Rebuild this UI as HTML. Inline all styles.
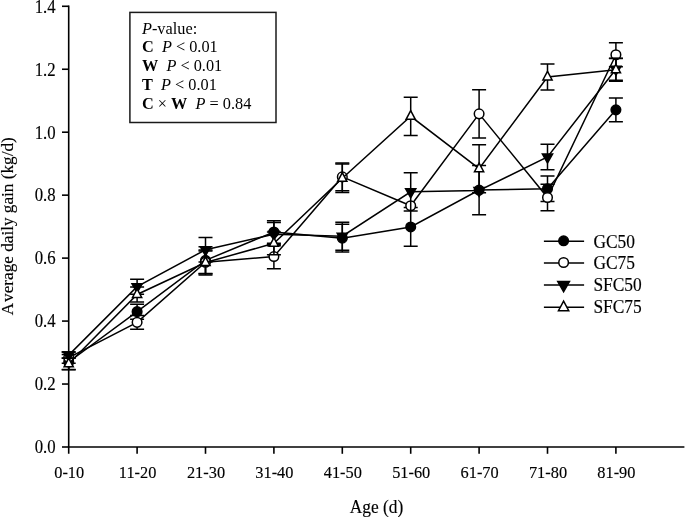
<!DOCTYPE html>
<html><head><meta charset="utf-8"><style>
html,body{margin:0;padding:0;background:#fff;}
body{width:685px;height:517px;overflow:hidden;}
svg{display:block;will-change:transform;}
text{font-family:"Liberation Serif",serif;fill:#000;}
.t{font-size:17.4px;stroke:#000;stroke-width:0.15px;}
.b{font-size:16.3px;white-space:pre;}
</style></head><body>
<svg width="685" height="517" viewBox="0 0 685 517">
<g stroke="#000" fill="none" stroke-linecap="butt">
<line x1="68.7" y1="5.48" x2="68.7" y2="453.8" stroke-width="1.6"/>
<line x1="67.9" y1="447.0" x2="684.4" y2="447.0" stroke-width="1.6"/>
<line x1="62.0" y1="447.00" x2="68.7" y2="447.00" stroke-width="1.6"/>
<line x1="62.0" y1="384.04" x2="68.7" y2="384.04" stroke-width="1.6"/>
<line x1="62.0" y1="321.08" x2="68.7" y2="321.08" stroke-width="1.6"/>
<line x1="62.0" y1="258.12" x2="68.7" y2="258.12" stroke-width="1.6"/>
<line x1="62.0" y1="195.16" x2="68.7" y2="195.16" stroke-width="1.6"/>
<line x1="62.0" y1="132.20" x2="68.7" y2="132.20" stroke-width="1.6"/>
<line x1="62.0" y1="69.24" x2="68.7" y2="69.24" stroke-width="1.6"/>
<line x1="62.0" y1="6.28" x2="68.7" y2="6.28" stroke-width="1.6"/>
<line x1="137.10" y1="447.0" x2="137.10" y2="453.8" stroke-width="1.6"/>
<line x1="205.50" y1="447.0" x2="205.50" y2="453.8" stroke-width="1.6"/>
<line x1="273.90" y1="447.0" x2="273.90" y2="453.8" stroke-width="1.6"/>
<line x1="342.30" y1="447.0" x2="342.30" y2="453.8" stroke-width="1.6"/>
<line x1="410.70" y1="447.0" x2="410.70" y2="453.8" stroke-width="1.6"/>
<line x1="479.10" y1="447.0" x2="479.10" y2="453.8" stroke-width="1.6"/>
<line x1="547.50" y1="447.0" x2="547.50" y2="453.8" stroke-width="1.6"/>
<line x1="615.90" y1="447.0" x2="615.90" y2="453.8" stroke-width="1.6"/>
<rect x="129.9" y="12.4" width="146.1" height="110.1" fill="none" stroke="#1a1a1a" stroke-width="1.5"/>
</g>
<g stroke="#000" stroke-linejoin="miter">
<path d="M68.70 354.45V369.56M61.70 354.45H75.70M61.70 369.56H75.70M137.10 304.14V319.13M130.10 304.14H144.10M130.10 319.13H144.10M205.50 246.79V273.86M198.50 246.79H212.50M198.50 273.86H212.50M273.90 220.66V243.32M266.90 220.66H280.90M266.90 243.32H280.90M342.30 224.28V251.98M335.30 224.28H349.30M335.30 251.98H349.30M410.70 207.59V246.31M403.70 207.59H417.70M403.70 246.31H417.70M479.10 165.57V214.68M472.10 165.57H486.10M472.10 214.68H486.10M547.50 175.96V201.46M540.50 175.96H554.50M540.50 201.46H554.50M615.90 98.01V121.69M608.90 98.01H622.90M608.90 121.69H622.90" fill="none" stroke-width="1.5"/>
<polyline points="68.70,362.00 137.10,311.64 205.50,260.32 273.90,231.99 342.30,238.13 410.70,226.95 479.10,190.12 547.50,188.71 615.90,109.85" fill="none" stroke-width="1.5"/>
<circle cx="68.70" cy="362.00" r="4.8" fill="#000" stroke-width="1.5"/>
<circle cx="137.10" cy="311.64" r="4.8" fill="#000" stroke-width="1.5"/>
<circle cx="205.50" cy="260.32" r="4.8" fill="#000" stroke-width="1.5"/>
<circle cx="273.90" cy="231.99" r="4.8" fill="#000" stroke-width="1.5"/>
<circle cx="342.30" cy="238.13" r="4.8" fill="#000" stroke-width="1.5"/>
<circle cx="410.70" cy="226.95" r="4.8" fill="#000" stroke-width="1.5"/>
<circle cx="479.10" cy="190.12" r="4.8" fill="#000" stroke-width="1.5"/>
<circle cx="547.50" cy="188.71" r="4.8" fill="#000" stroke-width="1.5"/>
<circle cx="615.90" cy="109.85" r="4.8" fill="#000" stroke-width="1.5"/>
<path d="M68.70 351.93V363.26M61.70 351.93H75.70M61.70 363.26H75.70M137.10 315.41V329.26M130.10 315.41H144.10M130.10 329.26H144.10M205.50 250.88V273.55M198.50 250.88H212.50M198.50 273.55H212.50M273.90 244.27V268.82M266.90 244.27H280.90M266.90 268.82H280.90M342.30 163.05V190.75M335.30 163.05H349.30M335.30 190.75H349.30M479.10 89.70V137.99M472.10 89.70H486.10M472.10 137.99H486.10M547.50 184.17V210.81M540.50 184.17H554.50M540.50 210.81H554.50M615.90 42.80V66.72M608.90 42.80H622.90M608.90 66.72H622.90" fill="none" stroke-width="1.5"/>
<polyline points="68.70,357.60 137.10,322.34 205.50,262.21 273.90,256.55 342.30,176.90 410.70,205.71 479.10,113.85 547.50,197.49 615.90,54.76" fill="none" stroke-width="1.5"/>
<circle cx="68.70" cy="357.60" r="4.8" fill="#fff" stroke-width="1.5"/>
<circle cx="137.10" cy="322.34" r="4.8" fill="#fff" stroke-width="1.5"/>
<circle cx="205.50" cy="262.21" r="4.8" fill="#fff" stroke-width="1.5"/>
<circle cx="273.90" cy="256.55" r="4.8" fill="#fff" stroke-width="1.5"/>
<circle cx="342.30" cy="176.90" r="4.8" fill="#fff" stroke-width="1.5"/>
<circle cx="410.70" cy="205.71" r="4.8" fill="#fff" stroke-width="1.5"/>
<circle cx="479.10" cy="113.85" r="4.8" fill="#fff" stroke-width="1.5"/>
<circle cx="547.50" cy="197.49" r="4.8" fill="#fff" stroke-width="1.5"/>
<circle cx="615.90" cy="54.76" r="4.8" fill="#fff" stroke-width="1.5"/>
<path d="M68.70 351.99V358.29M61.70 351.99H75.70M61.70 358.29H75.70M137.10 279.15V294.20M130.10 279.15H144.10M130.10 294.20H144.10M205.50 237.60V261.90M198.50 237.60H212.50M198.50 261.90H212.50M273.90 222.55V245.84M266.90 222.55H280.90M266.90 245.84H280.90M342.30 222.30V250.19M335.30 222.30H349.30M335.30 250.19H349.30M410.70 172.68V210.90M403.70 172.68H417.70M403.70 210.90H417.70M547.50 144.19V169.82M540.50 144.19H554.50M540.50 169.82H554.50M615.90 58.22V80.26M608.90 58.22H622.90M608.90 80.26H622.90" fill="none" stroke-width="1.5"/>
<polyline points="68.70,355.14 137.10,286.67 205.50,249.75 273.90,234.20 342.30,236.24 410.70,191.79 479.10,190.44 547.50,157.01 615.90,69.24" fill="none" stroke-width="1.5"/>
<polygon points="63.60,352.14 73.80,352.14 68.70,361.14" fill="#000" stroke-width="1.5"/>
<polygon points="132.00,283.67 142.20,283.67 137.10,292.67" fill="#000" stroke-width="1.5"/>
<polygon points="200.40,246.75 210.60,246.75 205.50,255.75" fill="#000" stroke-width="1.5"/>
<polygon points="268.80,231.20 279.00,231.20 273.90,240.20" fill="#000" stroke-width="1.5"/>
<polygon points="337.20,233.24 347.40,233.24 342.30,242.24" fill="#000" stroke-width="1.5"/>
<polygon points="405.60,188.79 415.80,188.79 410.70,197.79" fill="#000" stroke-width="1.5"/>
<polygon points="474.00,187.44 484.20,187.44 479.10,196.44" fill="#000" stroke-width="1.5"/>
<polygon points="542.40,154.01 552.60,154.01 547.50,163.01" fill="#000" stroke-width="1.5"/>
<polygon points="610.80,66.24 621.00,66.24 615.90,75.24" fill="#000" stroke-width="1.5"/>
<path d="M68.70 357.91V369.69M61.70 357.91H75.70M61.70 369.69H75.70M137.10 287.08V301.88M130.10 287.08H144.10M130.10 301.88H144.10M205.50 249.94V275.12M198.50 249.94H212.50M198.50 275.12H212.50M273.90 231.99V254.66M266.90 231.99H280.90M266.90 254.66H280.90M342.30 164.12V192.45M335.30 164.12H349.30M335.30 192.45H349.30M410.70 97.19V135.41M403.70 97.19H417.70M403.70 135.41H417.70M479.10 144.79V192.64M472.10 144.79H486.10M472.10 192.64H486.10M547.50 63.89V90.02M540.50 63.89H554.50M540.50 90.02H554.50M615.90 58.54V81.20M608.90 58.54H622.90M608.90 81.20H622.90" fill="none" stroke-width="1.5"/>
<polyline points="68.70,363.80 137.10,294.48 205.50,262.53 273.90,243.32 342.30,178.29 410.70,116.30 479.10,168.72 547.50,76.95 615.90,69.87" fill="none" stroke-width="1.5"/>
<polygon points="64.10,366.80 73.30,366.80 68.70,358.20" fill="#fff" stroke-width="1.5"/>
<polygon points="132.50,297.48 141.70,297.48 137.10,288.88" fill="#fff" stroke-width="1.5"/>
<polygon points="200.90,265.53 210.10,265.53 205.50,256.93" fill="#fff" stroke-width="1.5"/>
<polygon points="269.30,246.32 278.50,246.32 273.90,237.72" fill="#fff" stroke-width="1.5"/>
<polygon points="337.70,181.29 346.90,181.29 342.30,172.69" fill="#fff" stroke-width="1.5"/>
<polygon points="406.10,119.30 415.30,119.30 410.70,110.70" fill="#fff" stroke-width="1.5"/>
<polygon points="474.50,171.72 483.70,171.72 479.10,163.12" fill="#fff" stroke-width="1.5"/>
<polygon points="542.90,79.95 552.10,79.95 547.50,71.35" fill="#fff" stroke-width="1.5"/>
<polygon points="611.30,72.87 620.50,72.87 615.90,64.27" fill="#fff" stroke-width="1.5"/>
<line x1="543.9" y1="241.3" x2="584.1" y2="241.3" stroke-width="1.5"/>
<circle cx="563.60" cy="240.80" r="4.8" fill="#000" stroke-width="1.5"/>
<line x1="543.9" y1="263.0" x2="584.1" y2="263.0" stroke-width="1.5"/>
<circle cx="563.60" cy="262.50" r="4.8" fill="#fff" stroke-width="1.5"/>
<line x1="543.9" y1="284.9" x2="584.1" y2="284.9" stroke-width="1.5"/>
<polygon points="557.74,281.45 569.47,281.45 563.60,291.80" fill="#000" stroke-width="1.5"/>
<line x1="543.9" y1="307.3" x2="584.1" y2="307.3" stroke-width="1.5"/>
<polygon points="558.45,310.66 568.75,310.66 563.60,301.03" fill="#fff" stroke-width="1.5"/>
</g>
<text transform="translate(55.6,453.30) scale(1,1.062)" text-anchor="end" class="t" style="font-size:16.75px">0.0</text>
<text transform="translate(55.6,390.34) scale(1,1.062)" text-anchor="end" class="t" style="font-size:16.75px">0.2</text>
<text transform="translate(55.6,327.38) scale(1,1.062)" text-anchor="end" class="t" style="font-size:16.75px">0.4</text>
<text transform="translate(55.6,264.42) scale(1,1.062)" text-anchor="end" class="t" style="font-size:16.75px">0.6</text>
<text transform="translate(55.6,201.46) scale(1,1.062)" text-anchor="end" class="t" style="font-size:16.75px">0.8</text>
<text transform="translate(55.6,138.50) scale(1,1.062)" text-anchor="end" class="t" style="font-size:16.75px">1.0</text>
<text transform="translate(55.6,75.54) scale(1,1.062)" text-anchor="end" class="t" style="font-size:16.75px">1.2</text>
<text transform="translate(55.6,12.58) scale(1,1.062)" text-anchor="end" class="t" style="font-size:16.75px">1.4</text>
<text transform="translate(69.20,478.3) scale(1,1.08)" text-anchor="middle" class="t" style="font-size:16.35px">0-10</text>
<text transform="translate(137.60,478.3) scale(1,1.08)" text-anchor="middle" class="t" style="font-size:16.35px">11-20</text>
<text transform="translate(206.00,478.3) scale(1,1.08)" text-anchor="middle" class="t" style="font-size:16.35px">21-30</text>
<text transform="translate(274.40,478.3) scale(1,1.08)" text-anchor="middle" class="t" style="font-size:16.35px">31-40</text>
<text transform="translate(342.80,478.3) scale(1,1.08)" text-anchor="middle" class="t" style="font-size:16.35px">41-50</text>
<text transform="translate(411.20,478.3) scale(1,1.08)" text-anchor="middle" class="t" style="font-size:16.35px">51-60</text>
<text transform="translate(479.60,478.3) scale(1,1.08)" text-anchor="middle" class="t" style="font-size:16.35px">61-70</text>
<text transform="translate(548.00,478.3) scale(1,1.08)" text-anchor="middle" class="t" style="font-size:16.35px">71-80</text>
<text transform="translate(616.40,478.3) scale(1,1.08)" text-anchor="middle" class="t" style="font-size:16.35px">81-90</text>
<text transform="translate(376.5,512.5) scale(1,1.08)" text-anchor="middle" class="t">Age (d)</text>
<text transform="translate(12.6,226.3) rotate(-90)" text-anchor="middle" class="t" style="font-kerning:none;font-size:17.2px">A<tspan dx="1.0">verage daily gain (kg/d)</tspan></text>
<text transform="translate(593.4,247.9) scale(1,1.04)" class="t">GC50</text>
<text transform="translate(593.4,269.2) scale(1,1.04)" class="t">GC75</text>
<text transform="translate(593.4,291.4) scale(1,1.04)" class="t">SFC50</text>
<text transform="translate(593.4,312.5) scale(1,1.04)" class="t">SFC75</text>
<text x="142" y="34.0" class="b"><tspan font-style="italic">P</tspan>-value:</text>
<text x="142" y="52.3" class="b"><tspan font-weight="bold">C</tspan>  <tspan font-style="italic">P</tspan> &lt; 0.01</text>
<text x="142" y="71.1" class="b"><tspan font-weight="bold">W</tspan>  <tspan font-style="italic">P</tspan> &lt; 0.01</text>
<text x="142" y="90.0" class="b"><tspan font-weight="bold">T</tspan>  <tspan font-style="italic">P</tspan> &lt; 0.01</text>
<text x="142" y="108.8" class="b"><tspan font-weight="bold">C</tspan> × <tspan font-weight="bold">W</tspan>  <tspan font-style="italic">P</tspan> = 0.84</text>
</svg>
</body></html>
